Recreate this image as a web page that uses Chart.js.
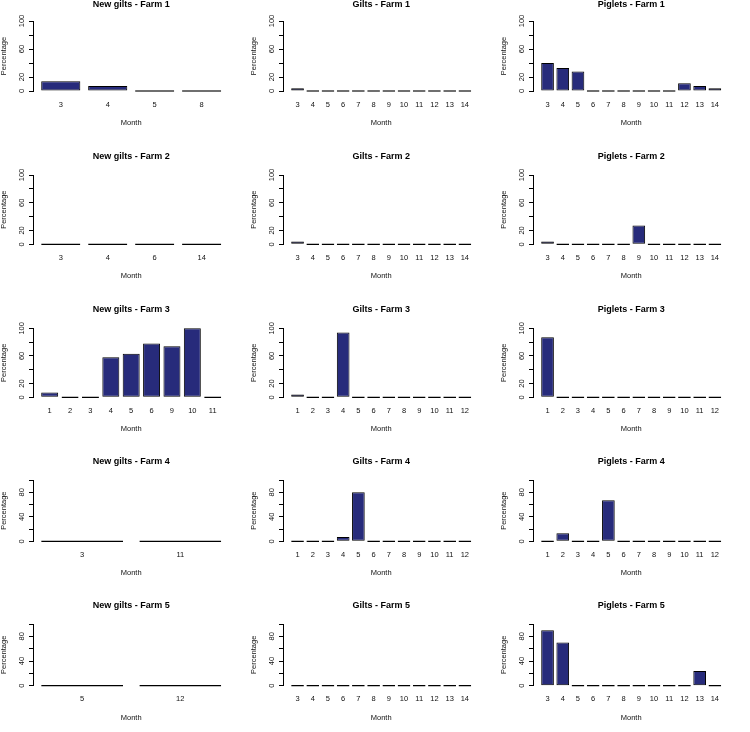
<!DOCTYPE html>
<html>
<head>
<meta charset="utf-8">
<script src="https://cdn.jsdelivr.net/npm/chart.js@4.4.0/dist/chart.umd.min.js"></script>
<style>
  html, body { margin: 0; padding: 0; background: #fff; }
  #grid { position: relative; width: 750px; height: 732px; overflow: hidden; }
  #grid canvas { position: absolute; }
</style>
</head>
<body>
<div id="grid"></div>
<script>
// one row per farm, one column per animal group
const farms = ['Farm 1', 'Farm 2', 'Farm 3', 'Farm 4', 'Farm 5'];
const groups = ['New gilts', 'Gilts', 'Piglets'];

const newGiltsMonths = [
  ['3', '4', '5', '8'],
  ['3', '4', '6', '14'],
  ['1', '2', '3', '4', '5', '6', '9', '10', '11'],
  ['3', '11'],
  ['5', '12']
];
const newGiltsPct = [
  [14, 7, 0, 0],
  [0, 0, 0, 0],
  [7, 0, 0, 58, 63, 78, 74, 100, 0],
  [0, 0],
  [0, 0]
];

const giltsMonths = [
  ['3', '4', '5', '6', '7', '8', '9', '10', '11', '12', '13', '14'],
  ['3', '4', '5', '6', '7', '8', '9', '10', '11', '12', '13', '14'],
  ['1', '2', '3', '4', '5', '6', '7', '8', '9', '10', '11', '12'],
  ['1', '2', '3', '4', '5', '6', '7', '8', '9', '10', '11', '12'],
  ['3', '4', '5', '6', '7', '8', '9', '10', '11', '12', '13', '14']
];
const giltsPct = [
  [4, 0, 0, 0, 0, 0, 0, 0, 0, 0, 0, 0],
  [4, 0, 0, 0, 0, 0, 0, 0, 0, 0, 0, 0],
  [4, 0, 0, 94, 0, 0, 0, 0, 0, 0, 0, 0],
  [0, 0, 0, 7, 80, 0, 0, 0, 0, 0, 0, 0],
  [0, 0, 0, 0, 0, 0, 0, 0, 0, 0, 0, 0]
];

const pigletsMonths = [
  ['3', '4', '5', '6', '7', '8', '9', '10', '11', '12', '13', '14'],
  ['3', '4', '5', '6', '7', '8', '9', '10', '11', '12', '13', '14'],
  ['1', '2', '3', '4', '5', '6', '7', '8', '9', '10', '11', '12'],
  ['1', '2', '3', '4', '5', '6', '7', '8', '9', '10', '11', '12'],
  ['3', '4', '5', '6', '7', '8', '9', '10', '11', '12', '13', '14']
];
const pigletsPct = [
  [40, 33, 28, 0, 0, 0, 0, 0, 0, 11, 7, 4],
  [4, 0, 0, 0, 0, 0, 27, 0, 0, 0, 0, 0],
  [87, 0, 0, 0, 0, 0, 0, 0, 0, 0, 0, 0],
  [0, 13, 0, 0, 67, 0, 0, 0, 0, 0, 0, 0],
  [90, 70, 0, 0, 0, 0, 0, 0, 0, 0, 24, 0]
];

const yTickValues = [0, 20, 40, 60, 80, 100];
const yLabelsTall = [0, 20, 60, 100];
const yLabelsShort = [0, 40, 80];

const monthsByGroup = [newGiltsMonths, giltsMonths, pigletsMonths];
const pctByGroup = [newGiltsPct, giltsPct, pigletsPct];

// page layout (px) - each row has its own vertical geometry
const rows = [
  { top: 0,   height: 140, title: 4.5,   y100: 21,    y0: 91,    tick: 105,   month: 123,   labels: yLabelsTall },
  { top: 148, height: 142, title: 156.7, y100: 175,   y0: 244.3, tick: 258.3, month: 276,   labels: yLabelsTall },
  { top: 300, height: 142, title: 310,   y100: 328.3, y0: 397.3, tick: 411,   month: 429.3, labels: yLabelsTall },
  { top: 452, height: 134, title: 462,   y100: 480,   y0: 541.3, tick: 555.3, month: 573.3, labels: yLabelsShort },
  { top: 596, height: 136, title: 606,   y100: 624,   y0: 685.7, tick: 699.3, month: 717.7, labels: yLabelsShort }
];
const PANEL_W = 250;
const PLOT_LEFT = 34;
const PLOT_RIGHT = 228.4;
const FONT = "'Liberation Sans', Arial, Helvetica, sans-serif";
const BAR_COLOR = '#272b7b';
const TEXT_COLOR = '#111';

// R-style y axis line, only from 0 to 100
const rAxisLine = {
  id: 'rAxisLine',
  afterDraw(chart) {
    const y = chart.scales.y;
    const ctx = chart.ctx;
    const x = chart.chartArea.left - 0.5;
    ctx.save();
    ctx.strokeStyle = '#000';
    ctx.lineWidth = 1;
    ctx.beginPath();
    ctx.moveTo(x, y.getPixelForValue(0));
    ctx.lineTo(x, y.getPixelForValue(100));
    ctx.stroke();
    ctx.restore();
  }
};

function makePanel(r, c) {
  const rb = rows[r];
  const months = monthsByGroup[c][r];
  const pct = pctByGroup[c][r];
  const n = months.length;

  // barplot positions: width 1, space 0.2, 4% axis extension
  const span = 1.2 * n - 0.2;
  const xmin = 0.2 - 0.04 * span;
  const xmax = 1.2 * n + 0.04 * span;
  const centers = months.map((m, i) => 0.7 + 1.2 * i);

  const pad = 0.04 * (rb.y0 - rb.y100);
  const chartTop = rb.y100 - pad;
  const chartBottom = rb.y0 + pad;
  const bottom = rb.top + rb.height;

  const titleTop = rb.title - rb.top - 4.5;
  const titleBottom = chartTop - rb.top - 9 - titleTop;

  const canvas = document.createElement('canvas');
  canvas.width = PANEL_W;
  canvas.height = rb.height;
  canvas.style.left = (c * PANEL_W) + 'px';
  canvas.style.top = rb.top + 'px';
  canvas.style.width = PANEL_W + 'px';
  canvas.style.height = rb.height + 'px';
  document.getElementById('grid').appendChild(canvas);

  const widest = rb.labels === yLabelsTall ? 12.5 : 8.3;

  new Chart(canvas, {
    type: 'bar',
    data: {
      datasets: [{
        data: pct.map((v, i) => ({ x: centers[i], y: v })),
        backgroundColor: BAR_COLOR,
        borderColor: '#000',
        borderWidth: 1,
        borderSkipped: false,
        minBarLength: 1.6,
        categoryPercentage: 1,
        barPercentage: 1 / 1.2
      }]
    },
    options: {
      responsive: false,
      animation: false,
      devicePixelRatio: 1,
      layout: { padding: { left: 0, right: PANEL_W - PLOT_RIGHT, top: 0, bottom: 0 } },
      plugins: {
        legend: { display: false },
        tooltip: { enabled: false },
        title: {
          display: true,
          fullSize: false,
          text: groups[c] + ' - ' + farms[r],
          color: '#000',
          font: { family: FONT, size: 9, weight: 'bold', lineHeight: 1 },
          padding: { top: titleTop, bottom: titleBottom }
        }
      },
      scales: {
        x: {
          type: 'linear',
          min: xmin,
          max: xmax,
          bounds: 'data',
          offset: false,
          grid: { display: false, drawTicks: false, offset: false },
          border: { display: false },
          afterBuildTicks: s => { s.ticks = centers.map(v => ({ value: v })); },
          ticks: {
            autoSkip: false,
            maxRotation: 0,
            padding: rb.tick - chartBottom - 4.5,
            color: TEXT_COLOR,
            font: { family: FONT, size: 7.5 },
            callback: (v, i) => months[i]
          },
          title: {
            display: true,
            text: 'Month',
            color: TEXT_COLOR,
            font: { family: FONT, size: 7.5 },
            padding: { top: 0, bottom: bottom - rb.month - 4.5 }
          },
          afterFit: s => { s.height = bottom - chartBottom; }
        },
        y: {
          min: -4,
          max: 104,
          afterBuildTicks: s => { s.ticks = yTickValues.map(v => ({ value: v })); },
          grid: { drawOnChartArea: false, drawTicks: true, tickLength: 5, color: '#000', lineWidth: 1 },
          border: { display: false },
          ticks: {
            autoSkip: false,
            minRotation: 90,
            maxRotation: 90,
            crossAlign: 'center',
            padding: PLOT_LEFT - 5 - widest / 2 - 22,
            color: TEXT_COLOR,
            font: { family: FONT, size: 7.5 },
            callback: v => rb.labels.includes(v) ? String(v) : ''
          },
          title: {
            display: true,
            text: 'Percentage',
            color: TEXT_COLOR,
            font: { family: FONT, size: 7.5, lineHeight: 1 },
            padding: 0
          },
          afterFit: s => { s.width = PLOT_LEFT; }
        }
      }
    },
    plugins: [rAxisLine]
  });
}

for (let r = 0; r < farms.length; r++) {
  for (let c = 0; c < groups.length; c++) {
    makePanel(r, c);
  }
}
</script>
</body>
</html>
